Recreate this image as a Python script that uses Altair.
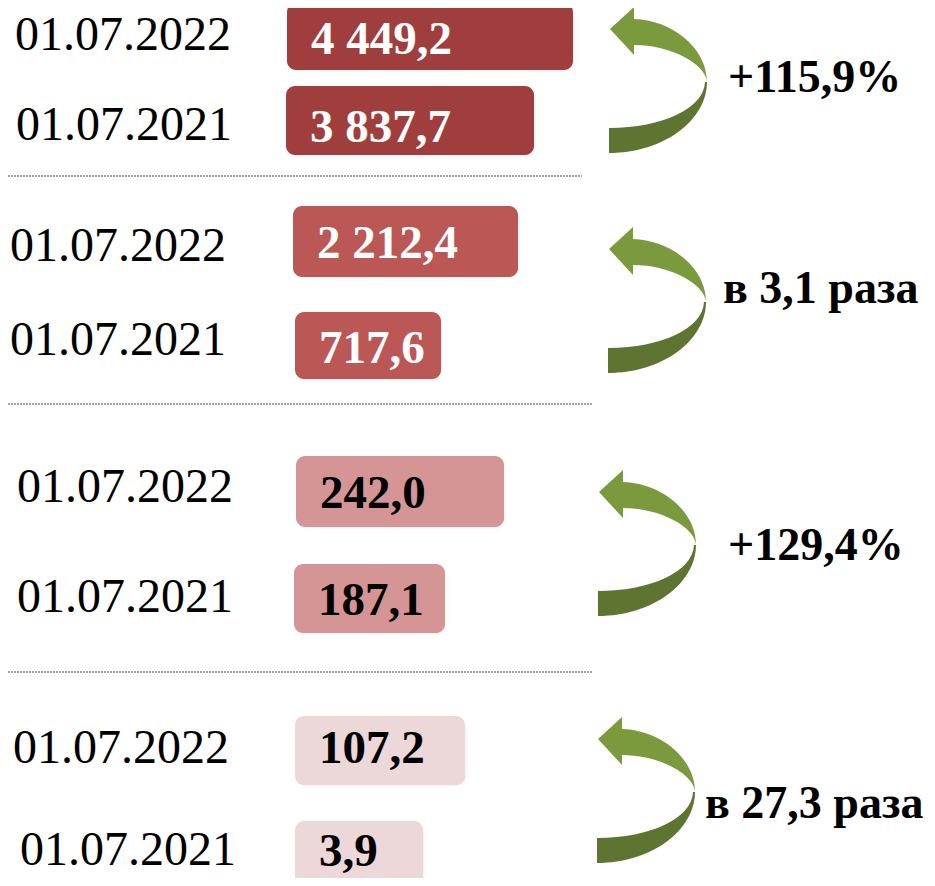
import altair as alt
import pandas as pd

# ---------------- data ----------------
groups = [1, 1, 2, 2, 3, 3, 4, 4]
dates = ["01.07.2022", "01.07.2021"] * 4
values = [4449.2, 3837.7, 2212.4, 717.6, 242.0, 187.1, 107.2, 3.9]
changes = ["+115,9%", "в 3,1 раза", "+129,4%", "в 27,3 раза"]

# ---------------- layout (image pixel positions) ----------------
bar_x0 = [287, 286, 293, 295, 296, 294, 295, 295]
bar_x1 = [573, 534, 518, 441, 504, 445, 465, 423]
bar_top = [3, 86, 206, 312, 456, 564, 716, 821]
bar_bottom = [70, 155, 277, 379, 527, 633, 785, 892]
value_baseline = [54, 142, 258, 363, 508, 615, 763, 866]
date_x = [15, 16, 10, 10, 17, 17, 13, 20]
date_baseline = [50, 140, 261, 355, 502, 612, 763, 865]
group_fill = ["#9F3E3C", "#BB5754", "#D59595", "#ECD7D9"]
group_text = ["#FFFFFF", "#FFFFFF", "#000000", "#000000"]

arrow_cx = [659, 658, 648, 647]
arrow_cy = [80, 300, 543, 790]
change_x = [728, 723, 728, 705]
change_baseline = [92, 303, 560, 818]
sep_y = [176, 404, 672]
sep_x1 = [582, 592, 592]

FONT = "Liberation Serif"


def ru(v):
    return f"{v:,.1f}".replace(",", " ").replace(".", ",")


rows = pd.DataFrame({
    "group": groups,
    "date": dates,
    "value": values,
    "label": [ru(v) for v in values],
    "x0": bar_x0,
    "x1": bar_x1,
    "top": bar_top,
    "bottom": bar_bottom,
    "vb": value_baseline,
    "dx": date_x,
    "db": date_baseline,
    "fill": [group_fill[g - 1] for g in groups],
    "tcol": [group_text[g - 1] for g in groups],
})

arrows = pd.DataFrame({
    "cx": arrow_cx,
    "cy": arrow_cy,
    "change": changes,
    "lx": change_x,
    "lb": change_baseline,
})

seps = pd.DataFrame({"y": sep_y, "x0": [8] * 3, "x1": sep_x1})


# arrow glyph (local box 100 x 146, centre 50,73)
def glyph(cmds):
    out = []
    for c in cmds:
        if isinstance(c, str):
            out.append(c)
        else:
            x, y = c
            out.append(f"{(x - 50) / 73:.4f},{(y - 73) / 73:.4f}")
    return " ".join(out)


upper_path = glyph(["M", (1, 22), "L", (25, 0), "L", (25, 12),
                    "C", (62, 13), (98, 40), (98, 75),
                    "C", (97, 57), (62, 38), (25, 38),
                    "L", (25, 48), "Z"])
lower_path = glyph(["M", (98, 75),
                    "C", (98, 113), (55, 146), (0, 146),
                    "L", (0, 121),
                    "C", (54, 121), (95, 101), (96, 75), "Z"])

XS = alt.Scale(domain=[8, 927], nice=False, zero=False)
YS = alt.Scale(domain=[878, 8], nice=False, zero=False)

base = alt.Chart(rows)


def shadow(off_x, off_y, sw, op):
    return base.mark_bar(cornerRadius=10, xOffset=off_x, yOffset=off_y,
                         color="#5A5A5A", opacity=op, stroke="#5A5A5A",
                         strokeWidth=sw, strokeOpacity=op, strokeJoin="round").encode(
        x=alt.X("x0:Q", scale=XS, axis=None), x2="x1:Q",
        y=alt.Y("top:Q", scale=YS, axis=None), y2="bottom:Q")


shadows = [shadow(4, 6, 8, 0.10), shadow(3, 5, 4, 0.14), shadow(2, 3, 1, 0.2)]

bars = base.mark_bar(cornerRadius=9).encode(
    x=alt.X("x0:Q", scale=XS, axis=None), x2="x1:Q",
    y=alt.Y("top:Q", scale=YS, axis=None), y2="bottom:Q",
    fill=alt.Fill("fill:N", scale=None))

values_txt = base.mark_text(font=FONT, fontSize=47, fontWeight="bold", align="left",
                            baseline="alphabetic", dx=24).encode(
    x=alt.X("x0:Q", scale=XS, axis=None),
    y=alt.Y("vb:Q", scale=YS, axis=None),
    text="label:N",
    color=alt.Color("tcol:N", scale=None))

dates_txt = base.mark_text(font=FONT, fontSize=48, align="left", baseline="alphabetic",
                           color="#000000").encode(
    x=alt.X("dx:Q", scale=XS, axis=None),
    y=alt.Y("db:Q", scale=YS, axis=None),
    text="date:N")

abase = alt.Chart(arrows)
arrow_up = abase.mark_point(shape=upper_path, filled=True, size=146 * 146, opacity=1,
                            fill="#7B9A3D", strokeWidth=0).encode(
    x=alt.X("cx:Q", scale=XS, axis=None), y=alt.Y("cy:Q", scale=YS, axis=None))
arrow_low = abase.mark_point(shape=lower_path, filled=True, size=146 * 146, opacity=1,
                             fill="#5E7532", strokeWidth=0).encode(
    x=alt.X("cx:Q", scale=XS, axis=None), y=alt.Y("cy:Q", scale=YS, axis=None))

change_txt = abase.mark_text(font=FONT, fontSize=46, fontWeight="bold", align="left",
                             baseline="alphabetic", color="#000000").encode(
    x=alt.X("lx:Q", scale=XS, axis=None),
    y=alt.Y("lb:Q", scale=YS, axis=None),
    text="change:N")

sep = alt.Chart(seps).mark_rule(color="#444444", strokeWidth=1, strokeDash=[2, 1]).encode(
    x=alt.X("x0:Q", scale=XS, axis=None), x2="x1:Q",
    y=alt.Y("y:Q", scale=YS, axis=None))

chart = alt.layer(
    sep, *shadows, bars, values_txt, dates_txt,
    arrow_low, arrow_up, change_txt
).properties(
    width=919, height=870,
    autosize=alt.AutoSizeParams(type="none"),
    padding=0,
    background="white",
).configure_view(stroke=None)

chart.save("out.html", embed_options={"renderer": "svg", "actions": False})
